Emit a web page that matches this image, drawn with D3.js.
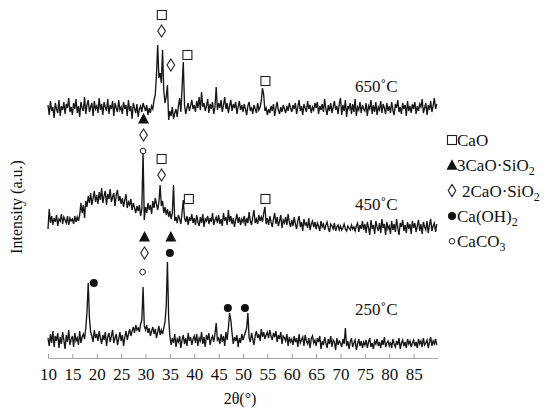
<!DOCTYPE html>
<html>
<head>
<meta charset="utf-8">
<script src="https://cdn.jsdelivr.net/npm/d3@7"></script>
<style>
  body { margin: 0; background: #fff; }
  text { font-family: "Liberation Serif", "Times New Roman", serif; fill: #111; }
</style>
</head>
<body>
<svg id="chart"></svg>
<script>
// 2theta grid: 10 deg, step 0.25 deg
const thetaStart = 10;
const thetaStep = 0.25;
const xTicks = [10, 15, 20, 25, 30, 35, 40, 45, 50, 55, 60, 65, 70, 75, 80, 85];

// intensity (a.u.), one value per 0.25 deg
const trace250 = [
  20,12,24,15,27,11,22,17,25,10,21,14,26,18,9,23,16,28,13,19,
  22,11,25,17,20,13,27,15,21,24,19,30,46,75,40,26,22,16,28,20,
  24,17,27,20,14,23,18,26,12,21,25,16,22,28,15,20,24,13,19,26,
  17,23,12,21,27,18,24,29,22,27,31,25,33,28,30,26,34,38,71,32,
  28,33,25,30,22,27,31,24,29,20,26,32,23,28,24,30,36,52,96,40,
  22,13,20,15,24,11,19,16,22,10,18,23,14,20,12,25,17,21,13,19,
  22,15,24,12,20,17,26,14,21,11,23,18,25,13,19,22,16,24,35,18,
  20,14,24,16,22,12,26,18,30,45,38,25,14,21,17,23,11,20,15,24,
  18,22,26,30,45,20,16,25,19,13,22,27,20,24,17,29,21,26,19,23,
  26,20,28,22,18,25,21,27,16,23,19,26,14,22,20,17,24,12,21,16,
  19,13,22,16,20,11,24,15,18,21,12,23,17,14,20,10,19,22,15,18,
  12,20,16,22,9,17,13,21,15,10,19,14,22,11,18,16,8,20,13,17,
  15,11,19,14,30,12,17,9,16,20,11,15,18,8,14,19,12,17,10,16,
  13,18,10,16,20,11,15,9,17,14,19,12,16,10,18,13,21,11,15,17,
  12,16,10,19,14,11,17,13,20,9,15,18,12,16,10,19,14,17,11,15,
  18,12,16,10,19,14,17,11,20,13,15,18,10,16,21,12,17,14,19,13
];

const trace450 = [
  14,34,20,27,18,25,21,28,17,24,22,29,19,26,23,20,27,18,25,22,
  24,19,27,21,26,22,28,40,30,38,25,42,36,47,40,50,38,45,52,41,
  48,39,51,43,55,40,47,52,38,49,44,54,41,46,50,37,48,53,42,47,
  39,45,36,43,49,35,41,38,44,33,40,35,30,37,32,38,27,34,91,23,
  36,30,40,33,38,29,42,35,45,39,33,41,58,37,42,30,36,28,34,26,
  32,24,30,58,22,26,20,28,24,19,30,43,25,21,27,18,26,22,29,20,
  25,18,28,21,17,26,20,29,16,24,22,27,19,25,21,30,18,23,26,20,
  28,19,24,17,30,22,26,18,33,21,27,19,25,16,23,29,20,26,18,24,
  21,27,17,25,20,31,22,18,26,33,20,24,19,28,22,26,21,30,36,19,
  25,18,27,21,16,24,30,19,26,17,22,28,15,23,20,26,18,29,21,16,
  23,17,26,19,14,22,27,16,21,12,24,18,20,15,25,13,19,22,16,21,
  14,20,17,12,22,16,19,13,18,21,15,11,19,17,14,20,12,16,18,13,
  17,13,15,19,14,12,17,15,13,18,14,16,12,17,20,11,18,14,22,13,
  19,10,21,15,8,23,14,18,9,22,16,12,20,10,24,15,19,8,21,14,
  17,9,22,13,19,11,24,15,8,20,16,23,12,18,10,21,14,19,9,22,
  15,20,11,17,23,12,19,9,21,16,13,22,10,18,24,12,17,20,11,19
];

const trace650 = [
  28,18,32,22,26,15,30,24,20,33,17,27,23,31,19,29,25,35,21,26,
  18,30,24,34,20,27,16,31,25,22,36,19,28,33,21,26,30,17,32,24,
  27,20,35,23,29,18,31,26,22,34,19,28,24,32,17,30,25,21,33,23,
  26,19,31,24,28,17,33,22,27,14,30,25,20,29,16,24,27,21,30,26,
  22,28,18,25,20,27,24,33,38,58,88,55,60,50,83,42,30,36,48,13,
  22,17,26,14,20,24,16,27,35,21,45,71,28,19,25,30,22,27,33,24,
  28,21,32,25,36,23,41,26,30,22,27,34,20,29,24,31,19,26,46,23,
  30,25,33,21,28,36,24,30,20,27,33,22,29,25,31,19,26,32,23,28,
  21,29,24,18,27,31,22,26,19,28,24,20,30,23,26,32,45,38,22,25,
  18,24,20,27,22,29,17,25,31,23,19,26,21,28,24,20,27,22,30,25,
  21,28,24,30,19,26,33,22,27,18,29,25,21,32,24,28,20,26,23,30,
  25,31,19,27,23,29,21,34,24,18,28,22,30,20,26,32,23,27,19,29,
  35,18,28,22,33,16,27,24,30,19,29,21,34,17,26,23,31,20,28,24,
  22,30,17,27,24,33,19,28,21,31,18,26,23,32,20,29,25,19,30,22,
  27,20,31,23,18,29,25,33,21,26,19,30,24,28,17,32,22,27,20,29,
  24,31,19,27,22,29,26,34,20,25,30,18,28,23,32,21,27,35,24,29
];

const traceNames = ['250˚C', '450˚C', '650˚C'];
const traceOffsets = [0, 115, 225];

// phase markers: [2theta, height (a.u.), phase]
const phaseMarks = [
  [33.35, 343, 'CaO'], [33.3, 327, 'C2S'], [35.2, 293, 'C2S'], [38.6, 303, 'CaO'], [54.6, 277, 'CaO'],
  [29.6, 239, 'C3S'], [29.6, 223, 'C2S'], [29.5, 207, 'CaCO3'], [33.3, 199, 'CaO'], [33.3, 183, 'C2S'],
  [38.9, 159, 'CaO'], [54.6, 159, 'CaO'],
  [29.8, 121, 'C3S'], [35.2, 121, 'C3S'], [29.8, 105, 'C2S'], [35.0, 105, 'CaOH2'], [29.4, 86, 'CaCO3'],
  [19.4, 75, 'CaOH2'], [46.9, 50, 'CaOH2'], [50.4, 50, 'CaOH2']
];

const legendKeys = ['CaO', 'C3S', 'C2S', 'CaOH2', 'CaCO3'];
const legendLabels = [['CaO', ''], ['3CaO·SiO', '2'], ['2CaO·SiO', '2'], ['Ca(OH)', '2'], ['CaCO', '3']];
const legendGap = [0, 0, 5, 0, 0];

const width = 550, height = 413;
const svg = d3.select('#chart').attr('width', width).attr('height', height);

const x = d3.scaleLinear().domain([10, 90]).range([48, 438]);
const y = d3.scaleLinear().domain([0, 350]).range([358, 8]);

// x axis, ticks pointing up
const xAxis = d3.axisBottom(x).tickValues(xTicks).tickSize(-4).tickSizeOuter(0).tickPadding(10);
const xAxisG = svg.append('g')
  .attr('transform', `translate(0,${y(0)})`)
  .call(xAxis);
xAxisG.select('.domain').attr('stroke', '#aaa').attr('stroke-width', 1.2);
xAxisG.selectAll('.tick line').attr('stroke', '#999');
xAxisG.selectAll('.tick text')
  .style('font-family', '"Liberation Serif", serif')
  .style('font-size', '17px')
  .attr('fill', '#111');

svg.append('text')
  .attr('x', 240).attr('y', 404)
  .attr('text-anchor', 'middle')
  .style('font-size', '16px')
  .text('2θ(°)');

svg.append('text')
  .attr('transform', 'translate(22,207) rotate(-90)')
  .attr('text-anchor', 'middle')
  .style('font-size', '16px')
  .text('Intensity (a.u.)');

// traces
const traces = [trace250, trace450, trace650];
traces.forEach((vals, k) => {
  const line = d3.line()
    .x((d, i) => x(thetaStart + i * thetaStep))
    .y(d => y(d + traceOffsets[k]));
  svg.append('path')
    .datum(vals)
    .attr('fill', 'none')
    .attr('stroke', '#161616')
    .attr('stroke-width', 1.35)
    .attr('stroke-linejoin', 'miter')
    .attr('d', line);
});

// temperature labels
const labelY = [43, 148, 266];
traceNames.forEach((t, k) => {
  svg.append('text')
    .attr('x', 355).attr('y', y(labelY[k]))
    .style('font-size', '17px')
    .text(t);
});

function drawMark(g, kind, cx, cy) {
  if (kind === 'CaO') {
    g.append('rect').attr('x', cx - 4.5).attr('y', cy - 4.5).attr('width', 9).attr('height', 9)
      .attr('fill', '#fff').attr('stroke', '#222').attr('stroke-width', 1.1);
  } else if (kind === 'C3S') {
    g.append('path').attr('d', `M${cx},${cy - 6}L${cx + 5.5},${cy + 4.5}L${cx - 5.5},${cy + 4.5}Z`)
      .attr('fill', '#111');
  } else if (kind === 'C2S') {
    g.append('path').attr('d', `M${cx},${cy - 6}L${cx + 3.8},${cy}L${cx},${cy + 6}L${cx - 3.8},${cy}Z`)
      .attr('fill', '#fff').attr('stroke', '#222').attr('stroke-width', 1.1);
  } else if (kind === 'CaOH2') {
    g.append('circle').attr('cx', cx).attr('cy', cy).attr('r', 4).attr('fill', '#111');
  } else {
    g.append('circle').attr('cx', cx).attr('cy', cy).attr('r', 2.8)
      .attr('fill', '#fff').attr('stroke', '#222').attr('stroke-width', 1);
  }
}

const marks = svg.append('g');
phaseMarks.forEach(m => drawMark(marks, m[2], x(m[0]), y(m[1])));

// legend
const legend = svg.append('g').attr('transform', 'translate(447,140)');
legendKeys.forEach((key, i) => {
  const row = legend.append('g').attr('transform', `translate(0,${i * 25.3})`);
  drawMark(row, key, 5, 0);
  const t = row.append('text').attr('x', 10 + legendGap[i]).attr('y', 6).style('font-size', '17px');
  t.append('tspan').text(legendLabels[i][0]);
  if (legendLabels[i][1]) {
    t.append('tspan').attr('dy', 4).style('font-size', '12px').text(legendLabels[i][1]);
  }
});
</script>
</body>
</html>
